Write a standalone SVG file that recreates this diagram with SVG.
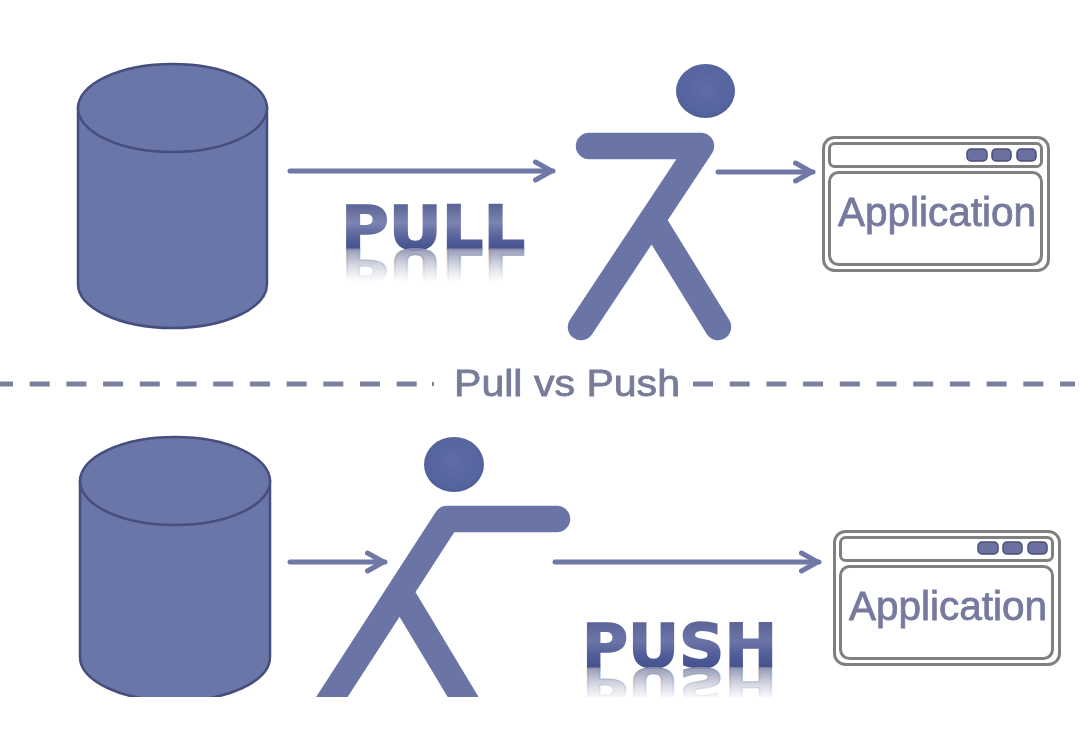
<svg xmlns="http://www.w3.org/2000/svg" width="1091" height="738" viewBox="0 0 1091 738">
<style>
.cyl{fill:#6a76a8;stroke:#454e7c;stroke-width:2.5}
.limb{fill:none;stroke:#6a75a6;stroke-width:26.500;stroke-linecap:round;stroke-linejoin:round}
.conn{fill:none;stroke:#6f78a6;stroke-width:5;stroke-linecap:round;marker-end:url(#arrow)}
.dash{fill:none;stroke:#7c80a0;stroke-width:5;stroke-dasharray:20 16.7}
.frame{fill:#fff;stroke:#808080;stroke-width:3}
.btn{fill:#6a70a0;stroke:#4b4f73;stroke-width:1.5}
.app{font-family:"Liberation Sans",Arial,sans-serif;font-size:40.500px;fill:#767a9e;stroke:#767a9e;stroke-width:.8;filter:url(#soft)}
.cap{font-family:"Liberation Sans",Arial,sans-serif;font-size:37px;fill:#777b98;stroke:#777b98;stroke-width:.8;filter:url(#soft)}
.big{font-family:"DejaVu Sans",Verdana,sans-serif;font-weight:700;font-size:60px;stroke-width:1.6}
</style>
<defs>
<filter id="soft" filterUnits="userSpaceOnUse" x="0" y="0" width="1091" height="738"><feGaussianBlur stdDeviation=".6"/></filter>
<marker id="arrow" viewBox="0 0 22 24" refX="20.500" refY="12" markerWidth="22" markerHeight="24" markerUnits="userSpaceOnUse" orient="auto">
<path d="M3 3 L19 12 L3 21" fill="none" stroke="#6f78a6" stroke-width="5" stroke-linecap="round" stroke-linejoin="round"/>
</marker>
<radialGradient id="head" cx=".5" cy=".45" r=".6">
<stop offset="0" stop-color="#5f6ca6"/><stop offset=".8" stop-color="#55639e"/><stop offset="1" stop-color="#4a5890"/>
</radialGradient>
<linearGradient id="g1" gradientUnits="userSpaceOnUse" x1="0" y1="205" x2="0" y2="249">
<stop offset="0" stop-color="#5d6598"/><stop offset=".4" stop-color="#7c84b0"/><stop offset=".75" stop-color="#56609a"/><stop offset="1" stop-color="#45528f"/>
</linearGradient>
<linearGradient id="r1" gradientUnits="userSpaceOnUse" x1="0" y1="249" x2="0" y2="205">
<stop offset="0" stop-color="#8a8fae" stop-opacity=".9"/><stop offset="1" stop-color="#c0c4d6" stop-opacity="0"/>
</linearGradient>
<linearGradient id="g2" gradientUnits="userSpaceOnUse" x1="0" y1="623" x2="0" y2="667">
<stop offset="0" stop-color="#5d6598"/><stop offset=".4" stop-color="#6c75a8"/><stop offset=".75" stop-color="#505c98"/><stop offset="1" stop-color="#45528f"/>
</linearGradient>
<linearGradient id="r2" gradientUnits="userSpaceOnUse" x1="0" y1="667" x2="0" y2="623">
<stop offset="0" stop-color="#8a8fae" stop-opacity=".9"/><stop offset="1" stop-color="#c0c4d6" stop-opacity="0"/>
</linearGradient>
<text id="pullWord" class="big" x="341" y="249" textLength="184" lengthAdjust="spacingAndGlyphs">PULL</text>
<text id="pushWord" class="big" x="582" y="667" textLength="195" lengthAdjust="spacingAndGlyphs">PUSH</text>
<clipPath id="cut"><rect x="0" y="0" width="1091" height="697"/></clipPath>
</defs>
<rect width="1091" height="738" fill="#fff"/>
<g id="connectors" filter="url(#soft)">
<path class="conn" d="M290 171H553"/>
<path class="conn" d="M718 172H813"/>
<path class="conn" d="M290 562H385"/>
<path class="conn" d="M555 562H819"/>
<path class="dash" d="M-7 384H418"/>
<path d="M432 384h2" stroke="#7c80a0" stroke-width="4" fill="none"/>
<path class="dash" d="M693 384H1075"/>
</g>
<g id="db-top">
<path class="cyl" d="M78 108V284C78 308 120 328 172.500 328S267 308 267 284V108Z"/>
<ellipse class="cyl" cx="172.500" cy="108" rx="94.500" ry="44"/>
</g>
<g id="person-top">
<ellipse cx="705.500" cy="91" rx="29.500" ry="27" fill="url(#head)"/>
<path class="limb" d="M589 146H701L581 327M652 220L718 327"/>
</g>
<g id="pull-label">
<use href="#pullWord" fill="url(#g1)" stroke="url(#g1)"/>
<use href="#pullWord" fill="url(#r1)" stroke="url(#r1)" transform="matrix(1 0 0 -.75 0 436)"/>
</g>
<g id="app-top">
<rect class="frame" x="823.500" y="137.500" width="225" height="133" rx="11"/>
<rect class="frame" x="829.500" y="143.500" width="212" height="23" rx="5"/>
<rect class="frame" x="829.500" y="172.500" width="212" height="92" rx="9"/>
<rect class="btn" x="967" y="149" width="20" height="12" rx="4"/>
<rect class="btn" x="992" y="149" width="19" height="12" rx="4"/>
<rect class="btn" x="1017" y="149" width="19" height="12" rx="4"/>
<text class="app" x="838" y="226">Application</text>
</g>
<g id="title"><text class="cap" x="454" y="396" textLength="226" lengthAdjust="spacingAndGlyphs">Pull vs Push</text></g>
<g clip-path="url(#cut)">
<g id="db-bottom">
<path class="cyl" d="M80 481V657C80 681 122 701 175 701S270 681 270 657V481Z"/>
<ellipse class="cyl" cx="175" cy="481" rx="95" ry="44"/>
</g>
<g id="person-bottom">
<ellipse cx="454" cy="464.500" rx="30" ry="27.500" fill="url(#head)"/>
<path class="limb" d="M557 519H447L317 720M400 592L477 720"/>
</g>
</g>
<g id="push-label" clip-path="url(#cut)">
<use href="#pushWord" fill="url(#g2)" stroke="url(#g2)"/>
<use href="#pushWord" fill="url(#r2)" stroke="url(#r2)" transform="matrix(1 0 0 -.75 0 1168.500)"/>
</g>
<g id="app-bottom">
<rect class="frame" x="834.500" y="531.500" width="225" height="133" rx="11"/>
<rect class="frame" x="840.500" y="537.500" width="212" height="23" rx="5"/>
<rect class="frame" x="840.500" y="566.500" width="212" height="92" rx="9"/>
<rect class="btn" x="978" y="542" width="20" height="12" rx="4"/>
<rect class="btn" x="1003" y="542" width="19" height="12" rx="4"/>
<rect class="btn" x="1028" y="542" width="19" height="12" rx="4"/>
<text class="app" x="849" y="620">Application</text>
</g>
</svg>
